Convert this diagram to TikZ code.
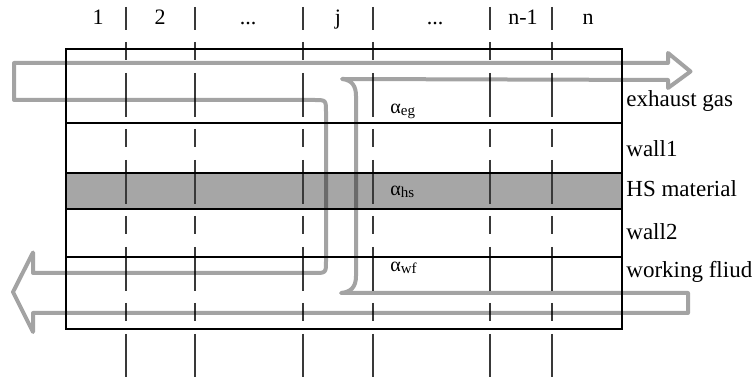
\documentclass[tikz,border=0pt]{standalone}
\usepackage{fontspec}
\setmainfont{Liberation Serif}
\definecolor{bandgray}{RGB}{166,166,166}
\tikzset{
  layerline/.style={line width=1pt, black},
  celldash/.style={gray!45!black, line width=0.6pt,
    dash pattern=on 22pt off 6pt on 9pt off 6.5pt, dash phase=10.5pt},
  flowline/.style={draw=black, draw opacity=0.36, line width=2pt, line join=round},
  collabel/.style={font=\fontsize{11}{13}\selectfont, anchor=base, inner sep=0pt},
  layerlabel/.style={font=\fontsize{11.5}{13}\selectfont, anchor=base west, inner sep=0pt},
  coeff/.style={font=\fontsize{10}{12}\selectfont, anchor=base west, inner sep=0pt},
}
\newcommand{\subtxt}[1]{\raisebox{-0.8pt}{\fontsize{7.5}{8}\selectfont #1}}
\begin{document}
\begin{tikzpicture}[x=0.5pt,y=-0.5pt]
\useasboundingbox (0,0) rectangle (755,378);

% heat storage layer
\fill[bandgray] (66,172.7) rectangle (622,208.7);

% cell boundaries
\foreach \x in {126,195,303,373,490,552}
  \draw[celldash] (\x,7) -- (\x,377);

% channel outline and layer boundaries
\draw[layerline] (66,48.7) rectangle (622,329);
\foreach \y in {123,172.7,208.7,257.3}
  \draw[layerline] (66,\y) -- (622,\y);

% flow of exhaust gas (right) and working fluid (left)
\draw[flowline]
  (13,292) -- (33,252.5) -- (33,273) -- (314,273)
  .. controls (326,273) .. (326,261) -- (326,112)
  .. controls (326,100) .. (314,100) -- (14,100) -- (14,63)
  -- (668,63) -- (668,53) -- (690.5,71.5) -- (668,88) -- (668,80)
  -- (342,79) .. controls (352,80) and (356,86) .. (356,96)
  -- (356,276) .. controls (356,287) and (351,292) .. (341,293)
  -- (688,293) -- (688,313) -- (33,313) -- (33,332) -- cycle;

% cell indices
\node[collabel] (c1) at (98,25) {1};
\node[collabel] (c2) at (160,25) {2};
\node[collabel] (c3) at (248,25) {...};
\node[collabel] (cj) at (338,25) {j};
\node[collabel] (c5) at (435,25) {...};
\node[collabel] (cn1) at (523,25) {n-1};
\node[collabel] (cn) at (588,25) {n};

% layer names
\node[layerlabel] (leg) at (626,107) {exhaust gas};
\node[layerlabel] (lw1) at (626,157) {wall1};
\node[layerlabel] (lhs) at (626,197) {HS material};
\node[layerlabel] (lw2) at (626,240) {wall2};
\node[layerlabel] (lwf) at (626,278) {working fliud};

% heat transfer coefficients
\node[coeff] (aeg) at (390,114) {α\subtxt{eg}};
\node[coeff] (ahs) at (390,196) {α\subtxt{hs}};
\node[coeff] (awf) at (390,272) {α\subtxt{wf}};
\end{tikzpicture}
\end{document}
